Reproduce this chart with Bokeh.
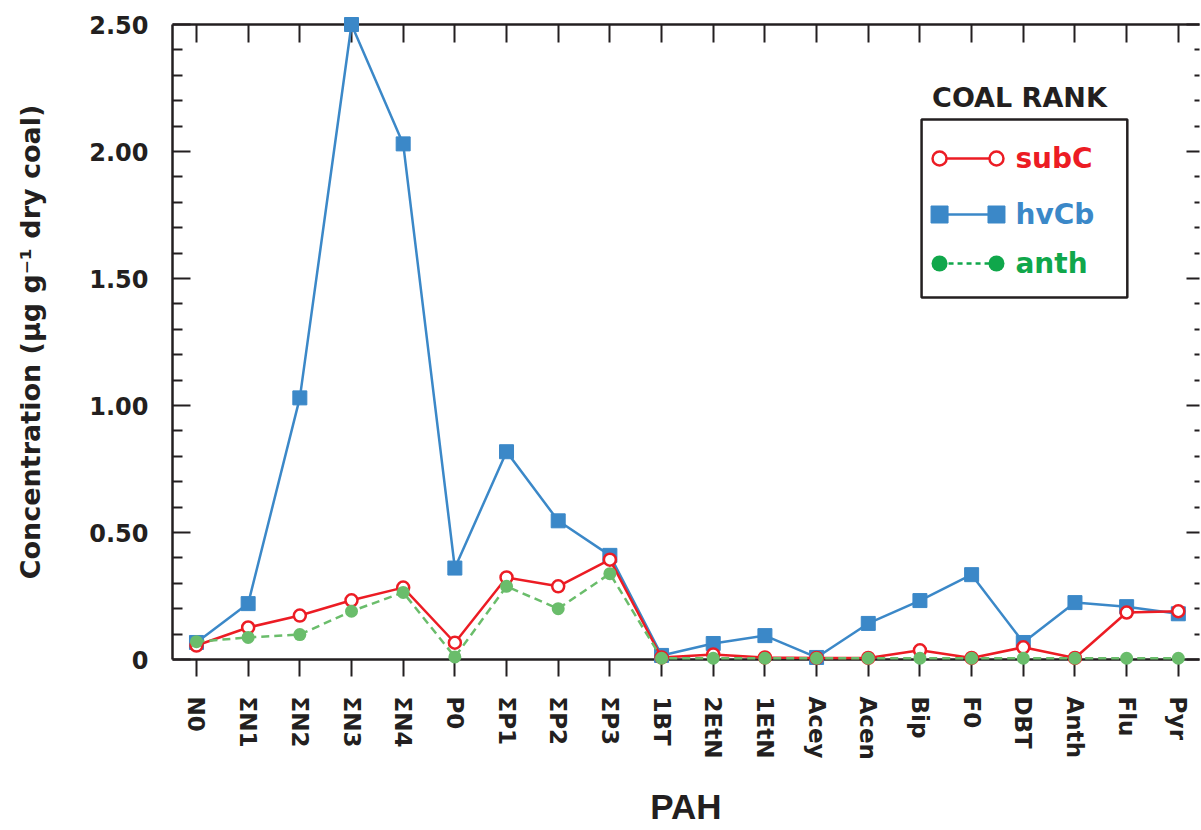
from bokeh.plotting import figure
from bokeh.models import LinearAxis, FixedTicker, Range1d, Label, BoxAnnotation
from bokeh.embed import file_html
from bokeh.resources import INLINE

# ---------------- data ----------------
pah = ["N0", "ΣN1", "ΣN2", "ΣN3", "ΣN4", "P0", "ΣP1", "ΣP2", "ΣP3", "1BT",
       "2EtN", "1EtN", "Acey", "Acen", "Bip", "F0", "DBT", "Anth", "Flu", "Pyr"]
subC = [0.055, 0.126, 0.173, 0.233, 0.283, 0.066, 0.323, 0.288, 0.393, 0.008,
        0.020, 0.008, 0.006, 0.006, 0.036, 0.006, 0.048, 0.006, 0.185, 0.190]
hvCb = [0.067, 0.220, 1.030, 2.500, 2.030, 0.360, 0.818, 0.546, 0.410, 0.016,
        0.063, 0.094, 0.008, 0.142, 0.232, 0.334, 0.067, 0.224, 0.208, 0.180]
anth = [0.070, 0.087, 0.098, 0.190, 0.264, 0.010, 0.288, 0.200, 0.338, 0.005,
        0.005, 0.005, 0.005, 0.005, 0.005, 0.005, 0.005, 0.005, 0.005, 0.005]
series_names = ["subC", "hvCb", "anth"]
y_major = [0, 0.5, 1.0, 1.5, 2.0, 2.5]
y_major_labels = ["0", "0.50", "1.00", "1.50", "2.00", "2.50"]
y_minor = [0.1, 0.2, 0.3, 0.4, 0.6, 0.7, 0.8, 0.9, 1.1, 1.2, 1.3, 1.4,
           1.6, 1.7, 1.8, 1.9, 2.1, 2.2, 2.3, 2.4]

RED = "#ec1c24"
BLUE = "#3b88c8"
GREEN = "#6abd6b"
GREEN_LEG = "#10a74b"
INK = "#231f20"
FONT = "DejaVu Sans"

xs = list(range(len(pah)))

p = figure(width=1200, height=829, output_backend="svg", toolbar_location=None,
           x_range=Range1d(-0.464, 19.41), y_range=Range1d(0, 2.5),
           min_border_left=172, min_border_right=1, min_border_top=24,
           min_border_bottom=170, x_axis_location=None, y_axis_location=None)
p.outline_line_color = None
p.background_fill_color = "white"
p.border_fill_color = "white"
p.xgrid.visible = False
p.ygrid.visible = False

# ---------------- axes ----------------
xb = LinearAxis(ticker=FixedTicker(ticks=xs, minor_ticks=[]),
                major_label_overrides={i: s for i, s in enumerate(pah)})
xb.major_label_orientation = "vertical"
xb.major_tick_in = 0
xb.major_tick_out = 17
xb.minor_tick_in = 0
xb.minor_tick_out = 0
xb.major_label_standoff = 20
xb.major_label_text_font = FONT
xb.major_label_text_font_style = "bold"
xb.major_label_text_font_size = "23px"
xb.major_label_text_color = INK
xb.axis_line_width = 2.5
xb.axis_line_color = INK
xb.major_tick_line_width = 2
xb.major_tick_line_color = INK
xb.axis_label = "PAH"
xb.axis_label_standoff = 24
xb.axis_label_text_font = "Liberation Sans"
xb.axis_label_text_font_style = "bold"
xb.axis_label_text_font_size = "35px"
xb.axis_label_text_color = INK
p.add_layout(xb, "below")

xt = LinearAxis(ticker=FixedTicker(ticks=xs, minor_ticks=[]),
                major_label_overrides={i: "" for i in xs})
xt.major_tick_in = 18
xt.major_tick_out = 0
xt.minor_tick_in = 0
xt.minor_tick_out = 0
xt.major_label_text_font_size = "8px"
xt.major_label_standoff = 0
xt.axis_line_width = 2.5
xt.axis_line_color = INK
xt.major_tick_line_width = 2
xt.major_tick_line_color = INK
p.add_layout(xt, "above")

yl = LinearAxis(ticker=FixedTicker(ticks=y_major, minor_ticks=y_minor),
                major_label_overrides={v: s for v, s in zip(y_major, y_major_labels)})
yl.major_tick_in = 18
yl.major_tick_out = 0
yl.minor_tick_in = 10
yl.minor_tick_out = 0
yl.major_label_standoff = 24
yl.major_label_text_font = FONT
yl.major_label_text_font_style = "bold"
yl.major_label_text_font_size = "24px"
yl.major_label_text_color = INK
yl.axis_line_width = 2.5
yl.axis_line_color = INK
yl.major_tick_line_width = 2
yl.minor_tick_line_width = 2
yl.major_tick_line_color = INK
yl.minor_tick_line_color = INK
yl.axis_label = "Concentration (μg g⁻¹ dry coal)"
yl.axis_label_standoff = 40
yl.axis_label_text_font = FONT
yl.axis_label_text_font_style = "bold"
yl.axis_label_text_font_size = "27px"
yl.axis_label_text_color = INK
p.add_layout(yl, "left")

yr = LinearAxis(ticker=FixedTicker(ticks=y_major, minor_ticks=y_minor),
                major_label_overrides={v: "" for v in y_major})
yr.major_tick_in = 13
yr.major_tick_out = 0
yr.minor_tick_in = 5
yr.minor_tick_out = 0
yr.major_label_text_font_size = "8px"
yr.major_label_standoff = 0
yr.axis_line_color = None
yr.major_tick_line_width = 2
yr.minor_tick_line_width = 2
yr.major_tick_line_color = INK
yr.minor_tick_line_color = INK
p.add_layout(yr, "right")

# ---------------- data series ----------------
r = p.line(xs, hvCb, line_color=BLUE, line_width=2.5)
r.level = "overlay"
r = p.scatter(xs, hvCb, marker="square", size=14, fill_color=BLUE, line_color=BLUE, line_width=1)
r.level = "overlay"

r = p.line(xs, subC, line_color=RED, line_width=2.5)
r.level = "overlay"
r = p.scatter(xs, subC, marker="circle", size=12, fill_color="white", line_color=RED, line_width=2.5)
r.level = "overlay"

r = p.line(xs, anth, line_color=GREEN, line_width=2.5, line_dash="8 5")
r.level = "overlay"
r = p.scatter(xs, anth, marker="circle", size=13, fill_color=GREEN, line_color=None)
r.level = "overlay"

# ---------------- legend (built by hand) ----------------
X0, DX = 196.0, 51.74   # page px of first category, px per category
Y0, DY = 659.0, 254.0   # page px of zero, px per unit


def dx(px):
    return (px - X0) / DX


def dy(py):
    return (Y0 - py) / DY


p.add_layout(BoxAnnotation(left=dx(922), right=dx(1128), top=dy(119), bottom=dy(297),
                           fill_alpha=0.0, line_color=INK, line_alpha=1.0,
                           line_width=2.5, level="annotation"))
p.add_layout(Label(x=dx(1020), y=dy(97), text="COAL RANK", text_align="center",
                   text_baseline="middle", text_font=FONT, text_font_style="bold",
                   text_font_size="27px", text_color=INK))

leg_rows = [dy(158), dy(214), dy(263)]
leg_colors = [RED, BLUE, GREEN_LEG]
sw = [dx(940), dx(997)]
for name, yy, col in zip(series_names, leg_rows, leg_colors):
    if name == "subC":
        r = p.line(sw, [yy, yy], line_color=col, line_width=2.5)
        r.level = "overlay"
        r = p.scatter(sw, [yy, yy], marker="circle", size=14, fill_color="white",
                      line_color=col, line_width=2.5)
        r.level = "overlay"
    elif name == "hvCb":
        r = p.line(sw, [yy, yy], line_color=col, line_width=2.5)
        r.level = "overlay"
        r = p.scatter(sw, [yy, yy], marker="square", size=17, fill_color=col, line_color=col)
        r.level = "overlay"
    else:
        r = p.line(sw, [yy, yy], line_color=col, line_width=2.5, line_dash="5 4")
        r.level = "overlay"
        r = p.scatter(sw, [yy, yy], marker="circle", size=16, fill_color=col, line_color=None)
        r.level = "overlay"
    p.add_layout(Label(x=dx(1016), y=yy, text=name, text_align="left", text_baseline="middle",
                       text_font=FONT, text_font_style="bold", text_font_size="28px",
                       text_color=col))

open("out.html", "w").write(file_html(p, INLINE))
